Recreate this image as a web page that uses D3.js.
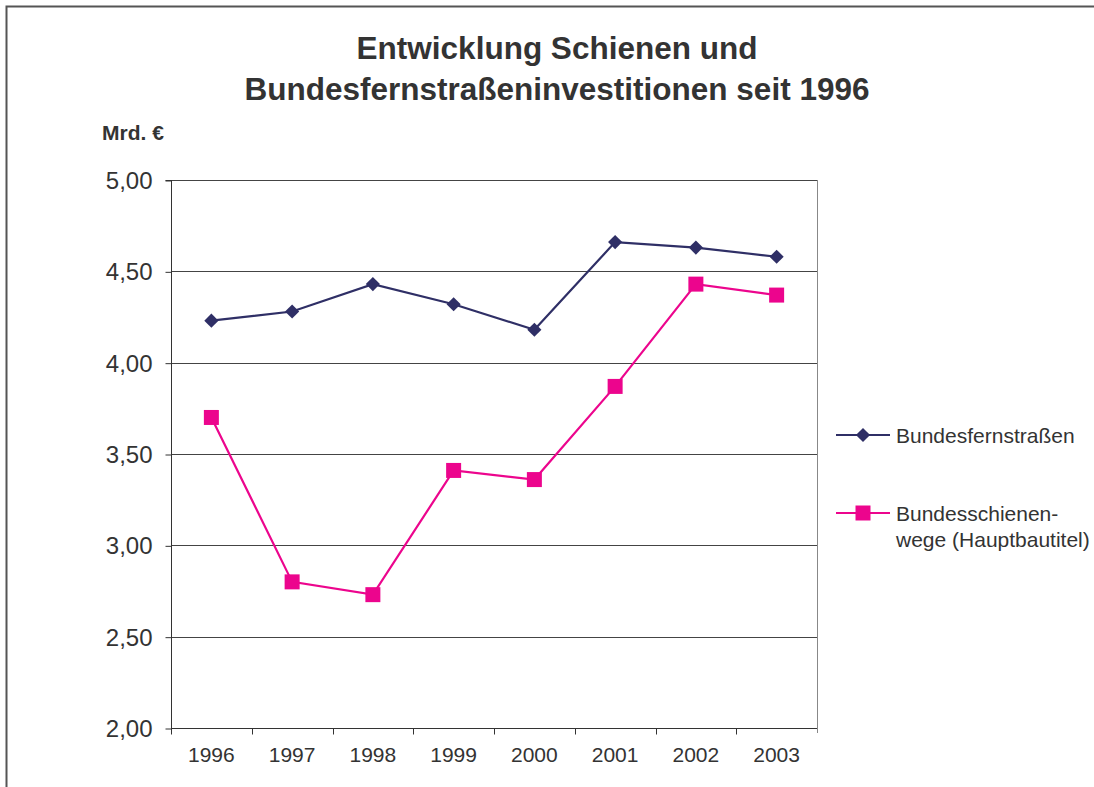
<!DOCTYPE html>
<html>
<head>
<meta charset="utf-8">
<script src="https://cdn.jsdelivr.net/npm/d3@7"></script>
<style>
  body { margin: 0; background: #fff; }
  svg { display: block; font-family: "Liberation Sans", Arial, sans-serif; }
</style>
</head>
<body>
<div id="chart"></div>
<script>
const years = ["1996", "1997", "1998", "1999", "2000", "2001", "2002", "2003"];
const strassen = [4.23, 4.28, 4.43, 4.32, 4.18, 4.66, 4.63, 4.58];
const schiene = [3.70, 2.80, 2.73, 3.41, 3.36, 3.87, 4.43, 4.37];
const yTicks = [2.0, 2.5, 3.0, 3.5, 4.0, 4.5, 5.0];

const width = 1094;
const height = 787;
const plot = { left: 171, right: 817, top: 180, bottom: 728 };
const textColor = "#333";

const svg = d3.select("#chart")
  .append("svg")
  .attr("width", width)
  .attr("height", height);

// outer frame (runs off the bottom and right of the picture)
svg.append("rect")
  .attr("x", 6.5).attr("y", 6.5)
  .attr("width", width).attr("height", height)
  .attr("fill", "none")
  .attr("stroke", "#555")
  .attr("stroke-width", 2);

svg.append("text")
  .attr("x", 557).attr("y", 59)
  .attr("text-anchor", "middle")
  .attr("font-size", 31.5).attr("font-weight", "bold")
  .attr("fill", textColor)
  .text("Entwicklung Schienen und");
svg.append("text")
  .attr("x", 557).attr("y", 100)
  .attr("text-anchor", "middle")
  .attr("font-size", 31.5).attr("font-weight", "bold")
  .attr("fill", textColor)
  .text("Bundesfernstraßeninvestitionen seit 1996");

svg.append("text")
  .attr("x", 102).attr("y", 140)
  .attr("font-size", 21).attr("font-weight", "bold")
  .attr("fill", textColor)
  .text("Mrd. €");

const x = d3.scaleBand()
  .domain(years)
  .range([plot.left, plot.right]);

const y = d3.scaleLinear()
  .domain([2, 5])
  .range([plot.bottom, plot.top]);

// gridlines
svg.append("g")
  .selectAll("line")
  .data(yTicks)
  .join("line")
  .attr("x1", plot.left).attr("x2", plot.right)
  .attr("y1", (d) => Math.round(y(d)) + 0.5)
  .attr("y2", (d) => Math.round(y(d)) + 0.5)
  .attr("stroke", "#444")
  .attr("stroke-width", 1);

// right border of plot area
svg.append("line")
  .attr("x1", plot.right + 0.5).attr("x2", plot.right + 0.5)
  .attr("y1", plot.top).attr("y2", plot.bottom + 5)
  .attr("stroke", "#888");

// y axis
const yAxis = svg.append("g")
  .attr("transform", `translate(${plot.left + 0.5},0.5)`)
  .call(d3.axisLeft(y)
    .tickValues(yTicks)
    .tickSize(6)
    .tickPadding(13)
    .tickFormat((d) => d.toFixed(2).replace(".", ",")));
yAxis.select(".domain").attr("stroke", "#333").attr("d", `M-6,${plot.top}H0V${plot.bottom}`);
yAxis.selectAll(".tick line").attr("stroke", "#333");
yAxis.selectAll(".tick text")
  .attr("font-size", 24)
  .attr("dy", "0.33em")
  .attr("font-family", "Liberation Sans, Arial, sans-serif")
  .attr("fill", textColor);

// x axis, ticks on category boundaries
const xAxis = svg.append("g")
  .attr("transform", `translate(0,${plot.bottom + 0.5})`)
  .call(d3.axisBottom(x).tickSize(0));
xAxis.select(".domain").attr("stroke", "#333").attr("d", `M${plot.left},0H${plot.right}`);
xAxis.selectAll(".tick text")
  .attr("y", 33)
  .attr("dy", null)
  .attr("font-size", 21)
  .attr("font-family", "Liberation Sans, Arial, sans-serif")
  .attr("fill", textColor);
xAxis.append("g")
  .selectAll("line")
  .data(years)
  .join("line")
  .attr("x1", (d) => Math.round(x(d)) + 0.5)
  .attr("x2", (d) => Math.round(x(d)) + 0.5)
  .attr("y1", 0).attr("y2", 6)
  .attr("stroke", "#333");

const series = [
  { name: "Bundesfernstraßen", values: strassen, color: "#2f2f66", diamond: true, size: 100 },
  { name: "Bundesschienenwege", values: schiene, color: "#ec058d", diamond: false, size: 225 }
];

const cx = (i) => x(years[i]) + x.bandwidth() / 2;

series.forEach((s) => {
  svg.append("path")
    .datum(s.values)
    .attr("fill", "none")
    .attr("stroke", s.color)
    .attr("stroke-width", 2.2)
    .attr("d", d3.line().x((d, i) => cx(i)).y((d) => y(d)));

  svg.append("g")
    .selectAll("path")
    .data(s.values)
    .join("path")
    .attr("d", d3.symbol().type(d3.symbolSquare).size(s.size))
    .attr("transform", (d, i) => `translate(${cx(i)},${y(d)})${s.diamond ? " rotate(45)" : ""}`)
    .attr("fill", s.color);
});

// legend
const legend = [
  { y: 435, lines: ["Bundesfernstraßen"], s: series[0] },
  { y: 513, lines: ["Bundesschienen-", "wege (Hauptbautitel)"], s: series[1] }
];

legend.forEach((l) => {
  const g = svg.append("g");
  g.append("line")
    .attr("x1", 836).attr("x2", 890)
    .attr("y1", l.y).attr("y2", l.y)
    .attr("stroke", l.s.color).attr("stroke-width", 2.2);
  g.append("path")
    .attr("d", d3.symbol().type(d3.symbolSquare).size(l.s.size))
    .attr("transform", `translate(863,${l.y})${l.s.diamond ? " rotate(45)" : ""}`)
    .attr("fill", l.s.color);
  l.lines.forEach((t, i) => {
    g.append("text")
      .attr("x", 896).attr("y", l.y + 8 + i * 26)
      .attr("font-size", 21)
      .attr("fill", textColor)
      .text(t);
  });
});
</script>
</body>
</html>
